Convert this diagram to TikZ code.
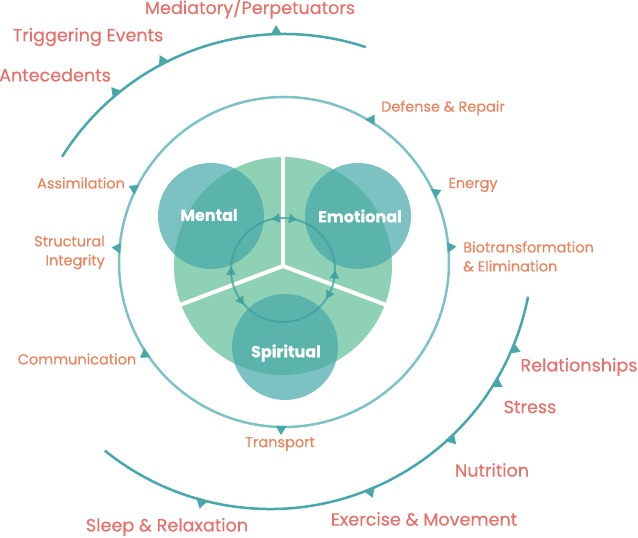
\documentclass[tikz,border=0pt]{standalone}
\usepackage{fontspec}
\setmainfont{Poppins}[FakeBold=0.35]
\definecolor{arcteal}{HTML}{46A8AA}
\definecolor{ringteal}{HTML}{7DC3C5}
\definecolor{sgreen}{HTML}{8FD1B4}
\definecolor{outred}{HTML}{E8706A}
\definecolor{inorange}{HTML}{E9845F}
\definecolor{circteal}{HTML}{46A9AA}
\definecolor{smallring}{HTML}{3E9FA0}
\newcommand\outmark[3]{\fill[arcteal,shift={(#1)},rotate=#2] (#3-1,-6) -- (#3+9,0) -- (#3-1,6) -- cycle;}
\newcommand\inmark[3]{\fill[arcteal,shift={(#1)},rotate=#2] (#3-1,-5.5) -- (#3+8,0) -- (#3-1,5.5) -- cycle;}
\newcommand\ringarrow[2]{\fill[smallring,opacity=0.85,shift={(csm)},rotate=#1] (52,#2*5) -- (47,#2*-3) -- (57,#2*-3) -- cycle;}
\begin{document}
\begin{tikzpicture}[x=1pt,y=1pt,
  outlbl/.style={text=outred,font=\fontsize{17.6}{20}\selectfont,inner sep=0},
  inlbl/.style={text=inorange,font=\fontsize{14.5}{19}\selectfont,inner sep=0},
  circlbl/.style={text=white,font=\bfseries\fontsize{16}{18}\selectfont,inner sep=0},
  bubble/.style={circle,fill=circteal,fill opacity=0.71,minimum size=106pt,inner sep=0,draw=none}]
\useasboundingbox (0,0) rectangle (638,538);
\coordinate (cin) at (284,276);
\coordinate (ctop) at (284,242);
\coordinate (cbot) at (270,292);
\coordinate (cg) at (283,272);
\coordinate (csm) at (283,268);
% inner ring
\draw[ringteal,line width=2.5pt] (cin) circle[radius=165];
% outer arcs
\draw[arcteal,line width=2.5pt] ([shift={(147.9:262)}]ctop) arc[start angle=147.9,end angle=71.8,radius=262];
\draw[arcteal,line width=2.5pt] ([shift={(-11.1:263)}]cbot) arc[start angle=-11.1,end angle=-128.9,radius=263];
% outer markers
\outmark{ctop}{129.6}{262}
\outmark{ctop}{117.3}{262}
\outmark{ctop}{91.7}{262}
\outmark{cbot}{-22.9}{263}
\outmark{cbot}{-31.2}{263}
\outmark{cbot}{-46.8}{263}
\outmark{cbot}{-67.8}{263}
\outmark{cbot}{-105}{263}
% inner markers
\inmark{cin}{58.4}{165}
\inmark{cin}{24.6}{165}
\inmark{cin}{5.1}{165}
\inmark{cin}{153.9}{165}
\inmark{cin}{175.2}{165}
\inmark{cin}{213.6}{165}
\inmark{cin}{269}{165}
% green disk with dividers
\fill[sgreen] (cg) circle[radius=109];
\draw[white,line width=4pt] (cg) -- ++(90:112);
\draw[white,line width=4pt] (cg) -- ++(200.7:112);
\draw[white,line width=4pt] (cg) -- ++(339.3:112);
% bubbles
\node[bubble] (mental) at (211,322) {};
\node[bubble] (emotional) at (358,322) {};
\node[bubble] (spiritual) at (285,191) {};
% small ring with arrows
\draw[smallring,line width=2pt,opacity=0.75] (csm) circle[radius=52];
\ringarrow{97}{1}
\ringarrow{80}{-1}
\ringarrow{182}{-1}
\ringarrow{216}{1}
\ringarrow{354}{1}
\ringarrow{332}{-1}
% bubble labels
\node[circlbl] (tmental) at (209,323) {Mental};
\node[circlbl] (temotional) at (360,322) {Emotional};
\node[circlbl] (tspiritual) at (286,185) {Spiritual};
% outer labels
\node[outlbl] (med) at (250,530) {Mediatory/Perpetuators};
\node[outlbl] (trig) at (88,501) {Triggering Events};
\node[outlbl] (ante) at (55,463) {Antecedents};
\node[outlbl] (rel) at (579,171) {Relationships};
\node[outlbl] (stress) at (530,131) {Stress};
\node[outlbl] (nutr) at (492,68) {Nutrition};
\node[outlbl] (exer) at (424,19) {Exercise \& Movement};
\node[outlbl] (sleep) at (167,11) {Sleep \& Relaxation};
% inner labels
\node[inlbl] (def) at (443,430) {Defense \& Repair};
\node[inlbl] (energy) at (473,353) {Energy};
\node[inlbl,align=left,anchor=west] (bio) at (463,281.5) {Biotransformation\\\& Elimination};
\node[inlbl] (assim) at (81,355) {Assimilation};
\node[inlbl,align=right,anchor=east] (struct) at (105,285.5) {Structural\\Integrity};
\node[inlbl] (comm) at (77,179) {Communication};
\node[inlbl] (trans) at (280,94) {Transport};
\end{tikzpicture}
\end{document}
